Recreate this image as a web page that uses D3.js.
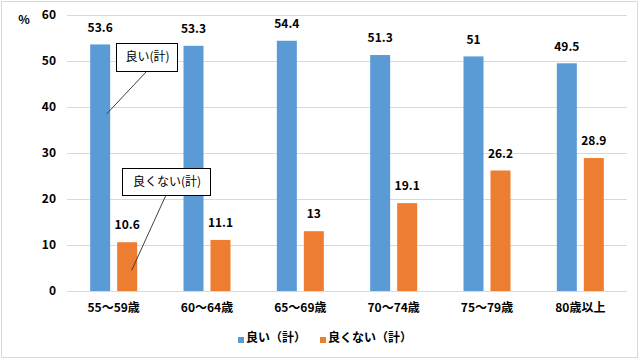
<!DOCTYPE html>
<html>
<head>
<meta charset="utf-8">
<script src="https://cdn.jsdelivr.net/npm/d3@7"></script>
<style>
  body { margin: 0; background: #fff; }
  svg text { font-family: "Noto Sans CJK JP", "Noto Sans", sans-serif; font-weight: bold; fill: #000; }
</style>
</head>
<body>
<svg width="640" height="360"></svg>
<script>
(function (d3) {
    'use strict';

    const categories = ['55～59歳', '60～64歳', '65～69歳', '70～74歳', '75～79歳', '80歳以上'];
    const goodValues = [53.6, 53.3, 54.4, 51.3, 51, 49.5];
    const badValues = [10.6, 11.1, 13, 19.1, 26.2, 28.9];
    const seriesNames = ['良い（計）', '良くない（計）'];
    const yTicks = [0, 10, 20, 30, 40, 50, 60];
    const colors = ['#5B9BD5', '#ED7D31'];

    const svg = d3.select('svg');

    // chart frame
    svg.append('rect')
        .attr('x', 1.5).attr('y', 1.5)
        .attr('width', 636).attr('height', 356)
        .attr('fill', 'none')
        .attr('stroke', '#d9d9d9');

    const x = d3.scaleBand().domain(categories).range([67, 627]);
    const y = d3.scaleLinear().domain([0, 60]).range([291, 15]);

    const g = svg.append('g');

    g.selectAll('line.grid').data(yTicks)
        .enter().append('line')
        .attr('class', 'grid')
        .attr('x1', 67).attr('x2', 627)
        .attr('y1', d => Math.round(y(d)) + 0.5)
        .attr('y2', d => Math.round(y(d)) + 0.5)
        .attr('stroke', '#d9d9d9');

    g.selectAll('text.ytick').data(yTicks)
        .enter().append('text')
        .attr('class', 'ytick')
        .attr('x', 56)
        .attr('y', d => y(d))
        .attr('dy', '0.35em')
        .attr('text-anchor', 'end')
        .attr('font-size', 12)
        .text(d => d);

    g.append('text')
        .attr('x', 24).attr('y', 20)
        .attr('dy', '0.35em')
        .attr('text-anchor', 'middle')
        .attr('font-size', 12)
        .text('%');

    const barW = 20;
    const gap = 7;
    const series = [goodValues, badValues];

    series.forEach((vals, si) => {
        const off = si === 0 ? -(barW + gap / 2) : gap / 2;
        const data = categories.map((c, i) => ({ c, v: vals[i] }));
        const cx = d => x(d.c) + x.bandwidth() / 2 + off;

        g.selectAll('rect.s' + si).data(data)
            .enter().append('rect')
            .attr('class', 's' + si)
            .attr('x', cx)
            .attr('y', d => y(d.v))
            .attr('width', barW)
            .attr('height', d => y(0) - y(d.v))
            .attr('fill', colors[si]);

        g.selectAll('text.l' + si).data(data)
            .enter().append('text')
            .attr('class', 'l' + si)
            .attr('x', d => cx(d) + barW / 2)
            .attr('y', d => y(d.v) - 17)
            .attr('dy', '0.35em')
            .attr('text-anchor', 'middle')
            .attr('font-size', 12)
            .text(d => d.v);
    });

    // category labels
    g.selectAll('text.cat').data(categories)
        .enter().append('text')
        .attr('class', 'cat')
        .attr('x', d => x(d) + x.bandwidth() / 2)
        .attr('y', 308)
        .attr('dy', '0.35em')
        .attr('text-anchor', 'middle')
        .attr('font-size', 12)
        .text(d => d);

    // callouts
    const callouts = [
        { text: '良い(計)', box: [116, 43, 61, 28], from: [147, 71], to: [x(categories[0]) + x.bandwidth() / 2 - 7, y(38.5)] },
        { text: '良くない(計)', box: [122, 168, 88, 27], from: [166, 195], to: [x(categories[0]) + x.bandwidth() / 2 + 18, y(4.5)] }
    ];
    callouts.forEach(c => {
        g.append('line')
            .attr('x1', c.from[0]).attr('y1', c.from[1])
            .attr('x2', c.to[0]).attr('y2', c.to[1])
            .attr('stroke', '#404040').attr('stroke-width', 1);
        g.append('rect')
            .attr('x', c.box[0] + 0.5).attr('y', c.box[1] + 0.5)
            .attr('width', c.box[2]).attr('height', c.box[3])
            .attr('fill', '#fff')
            .attr('stroke', '#000');
        g.append('text')
            .attr('x', c.box[0] + c.box[2] / 2 + 1)
            .attr('y', c.box[1] + c.box[3] / 2)
            .attr('dy', '0.35em')
            .attr('text-anchor', 'middle')
            .attr('font-size', 12)
            .style('font-weight', 'normal')
            .text(c.text);
    });

    // legend
    const legendX = [238, 320];
    seriesNames.forEach((n, i) => {
        g.append('rect')
            .attr('x', legendX[i]).attr('y', 337)
            .attr('width', 6).attr('height', 6)
            .attr('fill', colors[i]);
        g.append('text')
            .attr('x', legendX[i] + 8).attr('y', 338)
            .attr('dy', '0.35em')
            .attr('font-size', 12)
            .text(n);
    });

}(d3));
</script>
</body>
</html>
